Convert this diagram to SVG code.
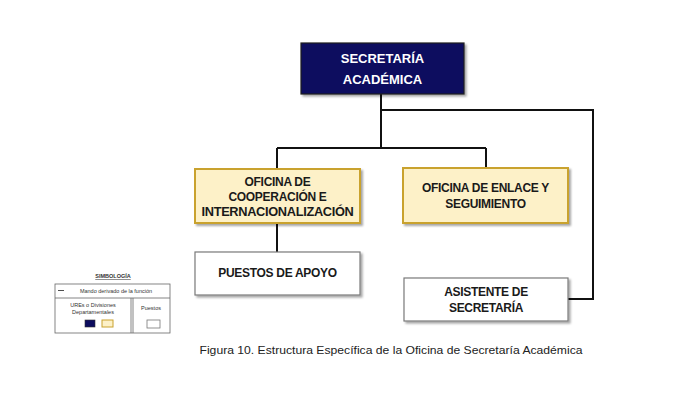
<svg xmlns="http://www.w3.org/2000/svg" width="682" height="400" viewBox="0 0 682 400">
<defs>
<filter id="sh" x="-10%" y="-10%" width="130%" height="140%">
<feDropShadow dx="2" dy="2" stdDeviation="1.2" flood-color="#000" flood-opacity="0.35"/>
</filter>
</defs>
<style>
.t{font-family:"Liberation Sans",Arial,sans-serif;font-weight:bold;font-size:12px;letter-spacing:-0.3px;text-anchor:middle;fill:#1a1a1a}
.tw{font-family:"Liberation Sans",Arial,sans-serif;font-weight:bold;font-size:13px;text-anchor:middle;fill:#fff}
.y{fill:#fdf1c8;stroke:#c9a22e;stroke-width:2}
.w{fill:#fff;stroke:#7a7a7a;stroke-width:1.2}
.c{fill:none;stroke:#111;stroke-width:2}
.lg{font-family:"Liberation Sans",Arial,sans-serif;font-size:5.5px;fill:#333;text-anchor:middle}
</style>
<rect width="682" height="400" fill="#fff"/>
<g id="connectors">
<path class="c" d="M381 94 V148 M277 148 H486 M277 148 V169 M486 148 V168 M277 223 V252 M381 110 H593 V299 H568"/>
</g>
<g id="secretaria">
<rect x="301" y="43" width="163" height="51" fill="#0c0c5e" stroke="#222" stroke-width="1.2" filter="url(#sh)"/>
<text class="tw" x="382.5" y="63">SECRETARÍA</text>
<text class="tw" x="382.5" y="84">ACADÉMICA</text>
</g>
<g id="cooperacion">
<rect class="y" x="195" y="169" width="165" height="54" filter="url(#sh)"/>
<text class="t" x="277.5" y="186">OFICINA DE</text>
<text class="t" x="277.5" y="201">COOPERACIÓN E</text>
<text class="t" x="277.5" y="216" textLength="152" lengthAdjust="spacingAndGlyphs">INTERNACIONALIZACIÓN</text>
</g>
<g id="enlace">
<rect class="y" x="403" y="168" width="165" height="55" filter="url(#sh)"/>
<text class="t" x="485.5" y="192">OFICINA DE ENLACE Y</text>
<text class="t" x="485.5" y="208">SEGUIMIENTO</text>
</g>
<g id="puestos">
<rect class="w" x="195" y="252" width="165" height="43" filter="url(#sh)"/>
<text class="t" x="277.5" y="277">PUESTOS DE APOYO</text>
</g>
<g id="asistente">
<rect class="w" x="404" y="278" width="164" height="43" filter="url(#sh)"/>
<text class="t" x="486" y="296">ASISTENTE DE</text>
<text class="t" x="486" y="312">SECRETARÍA</text>
</g>
<g id="simbologia">
<text class="lg" x="113" y="278" font-weight="bold" text-decoration="underline" font-size="6">SIMBOLOGÍA</text>
<rect x="55" y="284" width="115" height="49" fill="#fff" stroke="#666" stroke-width="0.8"/>
<line x1="55" y1="298" x2="170" y2="298" stroke="#666" stroke-width="0.8"/>
<line x1="131" y1="298" x2="131" y2="333" stroke="#666" stroke-width="0.8"/>
<line x1="133" y1="298" x2="133" y2="333" stroke="#666" stroke-width="0.8"/>
<line x1="58" y1="290.5" x2="64" y2="290.5" stroke="#222" stroke-width="0.8"/>
<text class="lg" x="116" y="292.5">Mando derivado de la función</text>
<text class="lg" x="93" y="307">UREs o Divisiones</text>
<text class="lg" x="93" y="314">Departamentales</text>
<text class="lg" x="151" y="310">Puestos</text>
<rect x="85" y="320" width="10" height="7" fill="#0c0c5e" stroke="#333" stroke-width="0.6"/>
<rect x="102" y="320" width="11" height="7" fill="#fdf1c8" stroke="#c9a22e" stroke-width="1"/>
<rect x="147" y="320" width="13" height="8" fill="#fff" stroke="#777" stroke-width="0.8"/>
</g>
<text x="391" y="354" font-family="'Liberation Sans',Arial,sans-serif" font-size="11" fill="#222" text-anchor="middle" textLength="383" lengthAdjust="spacingAndGlyphs">Figura 10. Estructura Específica de la Oficina de Secretaría Académica</text>
</svg>
